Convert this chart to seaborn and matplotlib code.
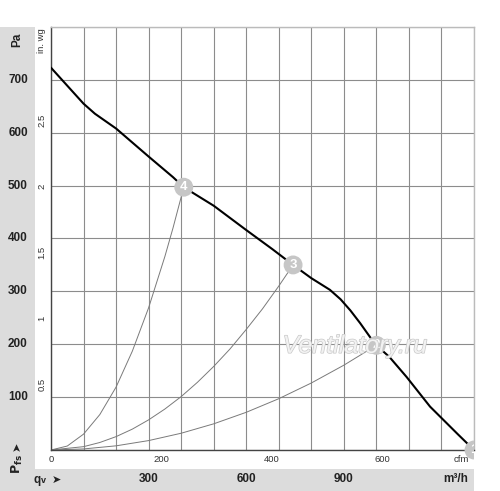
import matplotlib
matplotlib.use("Agg")
import matplotlib.pyplot as plt
import matplotlib.transforms as mtransforms
import matplotlib.patheffects as pe
from matplotlib.patches import Rectangle
import pandas as pd
import seaborn as sns

# ---------------- data ----------------
fan_q = [0, 100, 135, 200, 300, 375, 408, 500, 600, 680, 744, 800, 857, 890, 920, 950, 980, 1000, 1040, 1093, 1165, 1250, 1300]
fan_p = [723, 655, 636, 608, 555, 516, 497, 462, 416, 380, 350, 325, 303, 285, 264, 240, 214, 198, 176, 138, 82, 30, 0]

sys4_q = [0, 50, 100, 150, 200, 250, 300, 350, 375, 408]
sys4_p = [0, 7.5, 30, 67, 119, 187, 269, 366, 420, 497]

sys3_q = [0, 100, 150, 200, 250, 300, 350, 400, 450, 500, 550, 600, 650, 700, 744]
sys3_p = [0, 6.3, 14.2, 25.3, 39.5, 57, 77.5, 101, 128, 158, 191, 228, 267, 310, 350]

sys2_q = [0, 100, 200, 300, 400, 500, 600, 700, 800, 900, 1000]
sys2_p = [0, 2, 7.9, 17.8, 31.7, 49.5, 71.3, 97, 126.7, 160.4, 198]

marker_q = [1300, 1000, 744, 408]
marker_p = [0, 198, 350, 497]
marker_labels = ["1", "2", "3", "4"]

pa_ticks = [100, 200, 300, 400, 500, 600, 700]
inwg_ticks = [0.5, 1, 1.5, 2, 2.5]
inwg_labels = ["0.5", "1", "1.5", "2", "2.5"]
cfm_ticks = [0, 200, 400, 600]
m3h_ticks = [300, 600, 900]

PA_PER_INWG = 249.09
M3H_PER_CFM = 1.699

# ---------------- figure ----------------
sns.set_style("white")
plt.rcParams['font.family'] = ['Liberation Sans', 'DejaVu Sans']

W, H = 500, 491
fig = plt.figure(figsize=(W / 100, H / 100), dpi=100)
fig.patch.set_facecolor("white")

def fx(px):
    return px / W

def fy(py):
    return 1 - py / H

grey = "#dcdcdc"
fig.patches.append(Rectangle((0, 0), fx(35), fy(27), transform=fig.transFigure,
                             facecolor=grey, edgecolor="none", zorder=0))
fig.patches.append(Rectangle((0, 0), fx(474), fy(469), transform=fig.transFigure,
                             facecolor=grey, edgecolor="none", zorder=0))

ax = fig.add_axes([fx(51), fy(450), fx(474) - fx(51), fy(27) - fy(450)])
ax.set_zorder(2)
ax.set_facecolor("none")
ax.set_xlim(0, 1300)
ax.set_ylim(0, 800)
ax.set_xticks(range(0, 1301, 100))
ax.set_yticks(range(0, 801, 100))
ax.set_xticklabels([])
ax.set_yticklabels([])
ax.tick_params(length=0)
ax.grid(True, color="#8c8c8c", lw=0.8)
ax.set_axisbelow(True)
for s in ["left", "bottom"]:
    ax.spines[s].set_color("#444444")
    ax.spines[s].set_linewidth(1.0)
for s in ["top", "right"]:
    ax.spines[s].set_color("#bbbbbb")
    ax.spines[s].set_linewidth(1.0)

# system curves
for q, p in [(sys4_q, sys4_p), (sys3_q, sys3_p), (sys2_q, sys2_p)]:
    sns.lineplot(x=q, y=p, ax=ax, color="#7a7a7a", lw=0.7, sort=False, estimator=None, zorder=2)

# fan curve
sns.lineplot(x=fan_q, y=fan_p, ax=ax, color="black", lw=1.5, sort=False, estimator=None, zorder=3)

# markers (clipped only at the right edge of the chart area)
clip_rect = Rectangle((0, 0), fx(474), 1, transform=fig.transFigure)
sns.scatterplot(x=marker_q, y=marker_p, ax=ax, s=185, color="#c6c6c6", edgecolor="none",
                zorder=5, legend=False)
coll = ax.collections[-1]
coll.set_clip_on(True)
coll.set_clip_path(clip_rect)
for q, p, lab in zip(marker_q, marker_p, marker_labels):
    t = ax.text(q, p, lab, color="white", fontsize=9.5, fontweight="bold",
                ha="center", va="center", zorder=6)
    t.set_clip_on(True)
    t.set_clip_path(clip_rect)

# watermark
ax.text(934, 197, "Ventilatory.ru", fontsize=18, style="italic", color="#f2f2f2",
        ha="center", va="center", zorder=7,
        path_effects=[pe.withStroke(linewidth=1.0, foreground="#c8c8c8")])

# left Pa labels
ty = mtransforms.blended_transform_factory(fig.transFigure, ax.transData)
for v in pa_ticks:
    ax.text(fx(18), v, str(v), transform=ty, ha="center", va="center",
            fontsize=8.5, fontweight="bold", color="#222222", clip_on=False)
fig.text(fx(17), fy(40), "Pa", rotation=90, ha="center", va="center",
         fontsize=8.5, fontweight="bold", color="#222222")

# in. wg labels
for v, lab in zip(inwg_ticks, inwg_labels):
    ax.text(fx(42), v * PA_PER_INWG, lab, transform=ty, rotation=90, ha="center",
            va="center", fontsize=6.8, color="#333333", clip_on=False)
fig.text(fx(42), fy(28), "in. wg", rotation=90, ha="center", va="top",
         fontsize=6.8, color="#333333")

# cfm labels
tx = mtransforms.blended_transform_factory(ax.transData, fig.transFigure)
for v in cfm_ticks:
    ax.text(v * M3H_PER_CFM, fy(459.5), str(v), transform=tx, ha="center", va="center",
            fontsize=6.8, color="#333333", clip_on=False)
fig.text(fx(469), fy(460), "cfm", ha="right", va="center", fontsize=6.8, color="#333333")

# m3/h labels
for v in m3h_ticks:
    ax.text(v, fy(479.5), str(v), transform=tx, ha="center", va="center",
            fontsize=8.5, fontweight="bold", color="#222222", clip_on=False)
fig.text(fx(468), fy(479.5), "m³/h", ha="right", va="center", fontsize=8.5,
         fontweight="bold", color="#222222")

# qv arrow
fig.text(fx(33), fy(479.5), "q", ha="left", va="center", fontsize=8.5,
         fontweight="bold", color="#222222")
fig.text(fx(40.5), fy(480.5), "v", ha="left", va="center", fontsize=6.5,
         fontweight="bold", color="#222222")
fig.text(fx(52), fy(479.5), "➤", ha="left", va="center", fontsize=8,
         color="#222222", family=["DejaVu Sans"])

# Pfs arrow
fig.text(fx(17), fy(464), r"$\mathbf{P}_{\mathbf{fs}}$", rotation=90, ha="center",
         va="center", fontsize=9, color="#222222")
fig.text(fx(17), fy(446), "➤", rotation=90, ha="center", va="center", fontsize=8,
         color="#222222", family=["DejaVu Sans"])

fig.savefig("out.png", dpi=100)
